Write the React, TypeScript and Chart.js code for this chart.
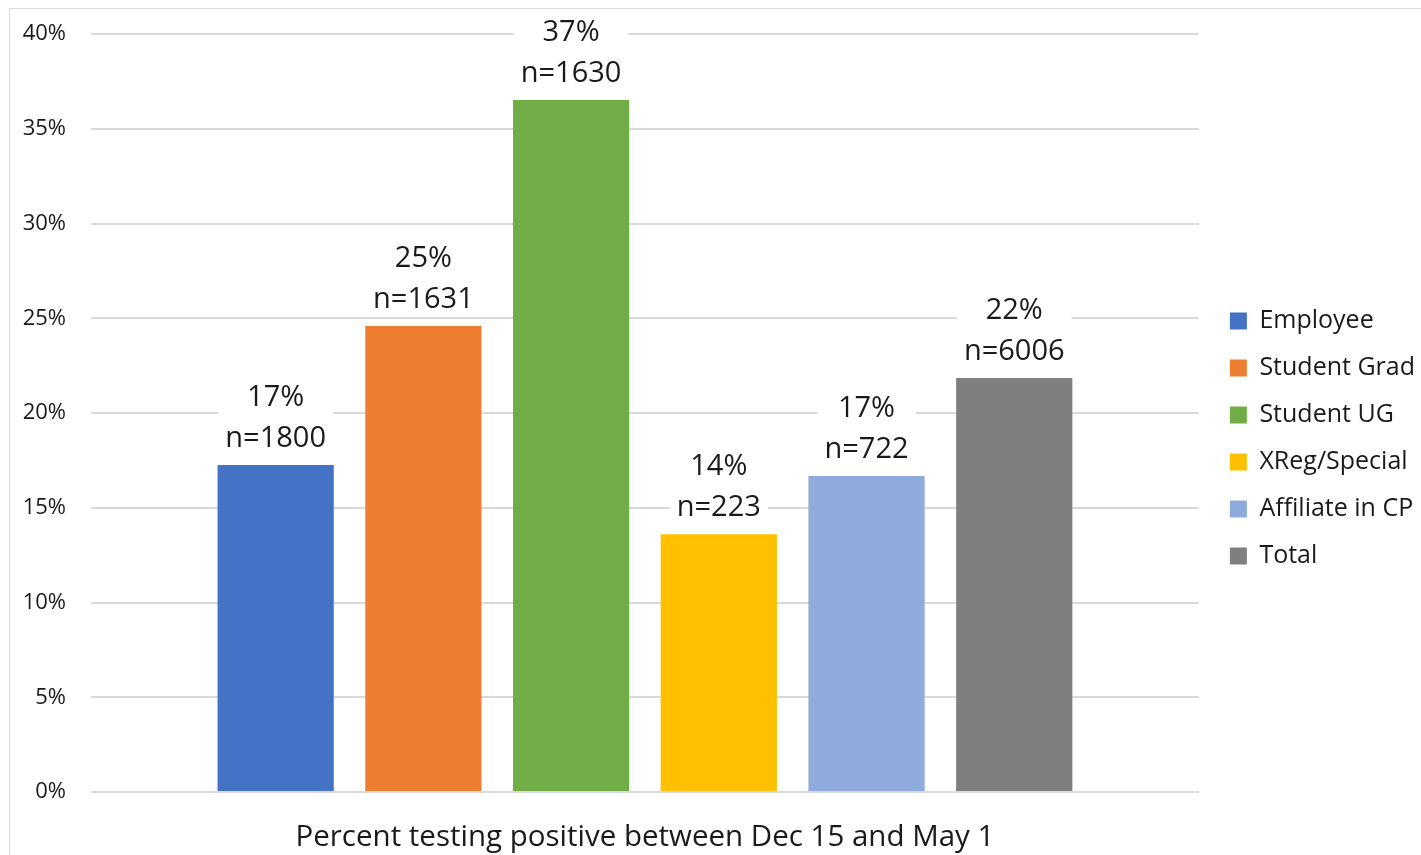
import React, { useEffect, useRef } from "react";
import { Chart, registerables } from "chart.js";

Chart.register(...registerables);

const categories = ["Percent testing positive between Dec 15 and May 1"];
const seriesNames = ["Employee", "Student Grad", "Student UG", "XReg/Special", "Affiliate in CP", "Total"];
const seriesValues = [17.26, 24.59, 36.52, 13.6, 16.68, 21.85];
const sampleSizes = [1800, 1631, 1630, 223, 722, 6006];
const seriesColors = ["#4472C4", "#ED7D31", "#70AD47", "#FFC000", "#8FAADC", "#7F7F7F"];
const yMin = 0;
const yMax = 40;
const yStep = 5;

const FONT = "'Open Sans', 'DejaVu Sans', sans-serif";
const TEXT = "#1a1a1a";

const framePlugin = {
  id: "frame",
  beforeDraw(chart: any) {
    const ctx = chart.ctx;
    ctx.save();
    ctx.fillStyle = "#ffffff";
    ctx.fillRect(0, 0, chart.width, chart.height);
    ctx.strokeStyle = "#d9d9d9";
    ctx.lineWidth = 1;
    ctx.strokeRect(9.5, 8.5, chart.width + 20, chart.height + 20);
    ctx.restore();
  },
};

const barLabelPlugin = {
  id: "barLabels",
  afterDatasetsDraw(chart: any) {
    const ctx = chart.ctx;
    ctx.save();
    ctx.font = `29px ${FONT}`;
    ctx.textAlign = "center";
    ctx.textBaseline = "alphabetic";
    chart.data.datasets.forEach((ds: any, i: number) => {
      const meta = chart.getDatasetMeta(i);
      meta.data.forEach((bar: any, j: number) => {
        const v = ds.data[j] as number;
        const l1 = `${Math.round(v)}%`;
        const l2 = `n=${sampleSizes[i]}`;
        const w = Math.max(ctx.measureText(l1).width, ctx.measureText(l2).width) + 14;
        const base2 = bar.y - 18;
        const base1 = base2 - 41;
        const top = base1 - 28;
        const bottom = base2 + 8;
        ctx.fillStyle = "#ffffff";
        ctx.fillRect(bar.x - w / 2, top, w, bottom - top);
        ctx.fillStyle = TEXT;
        ctx.fillText(l1, bar.x, base1);
        ctx.fillText(l2, bar.x, base2);
      });
    });
    ctx.restore();
  },
};

export default function App() {
  const canvasRef = useRef<HTMLCanvasElement | null>(null);

  useEffect(() => {
    const canvas = canvasRef.current;
    if (!canvas) return;
    const chart = new Chart(canvas, {
      type: "bar",
      data: {
        labels: categories,
        datasets: seriesNames.map((name, i) => ({
          label: name,
          data: [seriesValues[i]],
          backgroundColor: seriesColors[i],
          borderWidth: 0,
          categoryPercentage: 0.8,
          barPercentage: 0.787,
        })),
      },
      options: {
        animation: false,
        responsive: true,
        maintainAspectRatio: false,
        layout: { padding: { left: 0, top: 34, right: 35, bottom: 0 } },
        plugins: {
          tooltip: { enabled: false },
          legend: {
            position: "right",
            align: "center",
            title: { display: true, text: "", font: { size: 10, family: FONT }, padding: { top: -10, bottom: -14 } },
            labels: {
              font: { size: 25, family: FONT },
              color: TEXT,
              boxWidth: 17,
              boxHeight: 17,
              padding: 22,
            },
          },
        },
        scales: {
          x: {
            grid: { display: false },
            border: { display: false },
            ticks: {
              color: TEXT,
              font: { size: 29.5, family: FONT },
              padding: 20,
              maxRotation: 0,
              autoSkip: false,
            },
            afterFit: (s: any) => {
              s.height = 63;
            },
          },
          y: {
            min: yMin,
            max: yMax,
            grid: { color: "#d9d9d9", lineWidth: 2, drawTicks: false },
            border: { display: false },
            ticks: {
              stepSize: yStep,
              padding: 25,
              color: TEXT,
              font: { size: 22, family: FONT },
              callback: (v: any) => `${v}%`,
            },
            afterFit: (s: any) => {
              s.width = 91;
              s.paddingTop = 10;
              s.paddingBottom = 10;
            },
          },
          yRight: {
            type: "linear",
            position: "right",
            display: true,
            grid: { display: false },
            border: { display: false },
            ticks: { display: false },
            afterFit: (s: any) => {
              s.width = 9;
            },
          },
        },
      },
      plugins: [framePlugin, barLabelPlugin],
    } as any);
    return () => chart.destroy();
  }, []);

  return (
    <div style={{ position: "fixed", left: 0, top: 0, width: 1421, height: 855, overflow: "hidden", background: "#fff" }}>
      <div style={{ position: "absolute", left: 0, top: 0, width: 1460, height: 855 }}>
        <canvas ref={canvasRef} />
      </div>
    </div>
  );
}
